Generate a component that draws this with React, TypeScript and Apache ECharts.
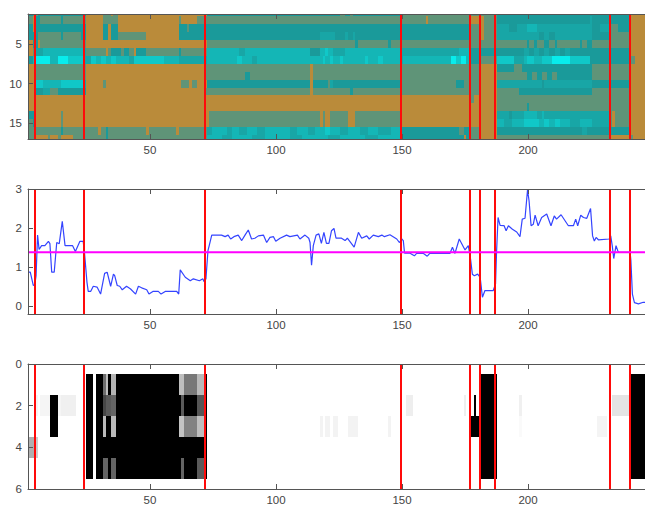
import React, { useEffect, useRef } from "react";
import * as echarts from "echarts";

const xTicks = [50, 100, 150, 200];
const heatYTicks = [5, 10, 15];
const lineYTicks = [0, 1, 2, 3];
const grayYTicks = [0, 2, 4, 6];
const xMin = 1.6;
const xMax = 246.4;

const redColumns = [4.2, 24, 72, 149.7, 176.8, 180.8, 187, 232.6, 240.6];
const threshold = 1.38;

// level colours of the top panel
const heatColors = ["#BA8B3A", "#5F9478", "#1A9A9A", "#18A6A6", "#14B6B6", "#10C8C8", "#08ECEC"];

// each row: runs of [last column, level]
const row1 = [[3,2],[5,1],[24,2],[31,0],[34,1],[35,0],[37,1],[72,0],[125,2],[127,1],[129,2],[130,1],[149,2],[187,1],[232,2],[240,2],[246,0]];
const row2 = [[3,1],[4,0],[6,2],[14,1],[15,2],[24,1],[31,0],[37,1],[61,0],[62,1],[68,0],[72,1],[159,1],[160,0],[176,1],[180,0],[181,1],[182,0],[187,1],[224,2],[225,3],[240,2],[246,0]];
const row3 = [[3,2],[4,0],[24,2],[31,0],[33,2],[34,0],[37,2],[61,0],[64,2],[65,1],[72,2],[176,2],[181,1],[182,0],[187,1],[192,3],[195,2],[199,3],[203,4],[225,3],[228,2],[232,3],[235,1],[240,2],[246,0]];
const row4 = [[5,2],[14,1],[15,2],[22,1],[24,2],[31,0],[33,2],[34,0],[37,2],[48,1],[61,0],[117,2],[123,3],[127,2],[128,3],[130,2],[131,3],[176,2],[181,1],[182,0],[187,1],[204,3],[206,2],[208,3],[210,2],[225,3],[232,2],[240,1],[246,0]];
const row5 = [[3,0],[5,2],[6,0],[24,1],[72,0],[131,1],[132,2],[144,1],[145,2],[199,1],[200,2],[202,1],[203,2],[206,1],[208,2],[210,1],[211,2],[220,1],[221,2],[223,1],[225,2],[240,1],[246,0]];
const row6 = [[3,0],[4,1],[7,3],[23,4],[24,3],[32,1],[33,0],[34,1],[38,2],[39,1],[41,2],[43,1],[44,0],[48,2],[61,1],[62,2],[72,1],[85,4],[87,3],[113,4],[117,2],[119,4],[120,5],[122,4],[127,3],[149,4],[172,3],[176,4],[198,2],[200,3],[202,2],[204,3],[206,2],[208,3],[210,2],[212,3],[214,2],[216,3],[240,2],[246,0]];
const row7 = [[3,2],[4,4],[10,6],[13,4],[17,6],[23,5],[26,3],[28,5],[30,4],[32,5],[34,4],[36,5],[41,4],[43,3],[55,5],[61,4],[72,3],[84,4],[86,5],[90,4],[92,3],[118,4],[119,5],[121,4],[122,5],[125,4],[126,5],[135,4],[136,5],[140,4],[142,5],[149,4],[150,3],[169,4],[171,6],[173,5],[175,6],[176,4],[180,2],[187,1],[194,5],[198,3],[199,4],[202,5],[205,4],[209,5],[216,6],[224,5],[240,2],[242,1],[246,0]];
const row8 = [[4,0],[24,1],[71,0],[113,1],[114,0],[180,1],[187,0],[194,2],[197,1],[225,2],[240,1],[246,0]];
const row9 = [[4,0],[24,1],[71,0],[87,1],[89,2],[113,1],[114,0],[180,1],[187,0],[199,1],[201,2],[203,1],[205,2],[207,1],[209,2],[211,1],[225,2],[240,1],[246,0]];
const row10 = [[4,0],[7,5],[14,4],[23,5],[24,3],[31,0],[32,1],[62,0],[65,1],[66,0],[68,1],[72,0],[113,2],[114,0],[120,2],[121,1],[122,3],[149,2],[171,1],[174,2],[180,1],[187,0],[205,3],[206,2],[225,3],[240,2],[246,0]];
const row11 = [[4,0],[7,2],[10,3],[13,1],[24,2],[71,0],[113,1],[114,0],[129,1],[130,2],[180,1],[187,0],[196,1],[225,2],[240,1],[246,0]];
const row12 = [[177,0],[178,1],[187,0],[240,1],[246,0]];
const row13 = [[187,0],[199,1],[200,2],[240,1],[246,0]];
const row14 = [[4,2],[14,0],[15,1],[73,0],[117,1],[118,0],[119,1],[121,0],[128,1],[131,0],[149,1],[187,0],[192,3],[193,2],[198,3],[203,4],[205,3],[206,4],[232,3],[233,1],[234,0],[240,1],[246,0]];
const row15 = [[3,1],[4,2],[14,0],[15,1],[73,0],[117,1],[118,0],[119,1],[121,0],[128,1],[131,0],[149,1],[187,0],[190,4],[193,3],[198,4],[204,5],[206,4],[208,5],[210,4],[212,5],[216,4],[220,3],[225,4],[232,3],[233,1],[234,0],[240,1],[246,0]];
const row16 = [[14,1],[15,2],[29,1],[30,0],[32,1],[33,2],[48,1],[49,0],[60,1],[61,0],[72,1],[74,3],[80,4],[82,3],[85,4],[88,3],[92,4],[95,3],[105,4],[108,3],[112,4],[115,3],[119,4],[121,5],[125,4],[128,3],[133,4],[136,3],[140,4],[145,3],[149,4],[172,2],[174,1],[176,2],[181,1],[187,0],[221,2],[223,3],[240,2],[246,0]];
const row17 = [[4,1],[9,0],[10,1],[13,0],[14,1],[19,0],[32,1],[33,2],[72,1],[78,4],[82,3],[90,4],[95,3],[105,4],[110,3],[120,4],[125,3],[135,4],[140,3],[149,4],[174,2],[175,0],[176,2],[181,1],[187,0],[232,1],[240,0],[241,1],[246,0]];
const heatRows = [row1,row2,row3,row4,row5,row6,row7,row8,row9,row10,row11,row12,row13,row14,row15,row16,row17];

const lineColumns = [1.7,2.5,3.7,4.3,4.8,5.4,6,7,8.3,9.7,10.3,11,12,13,14,15.2,16.3,19.3,20.4,22.2,23.5,24,25,25.5,26.5,27.5,29,30.4,32,33,34.4,35.5,36,37,38,39,40.7,42.3,44.3,45.4,46.7,48.7,49.6,51.3,53.3,54.4,56.2,60.6,61.4,62,64,66,67.2,69.6,71,71.4,72.2,73,73.5,74.5,
78.4,79.8,81,82,83.3,85,86.4,87.7,89,90.3,91.6,93,95,96.3,97.6,99,99.9,101.6,104.2,105.5,108.5,109.5,111.5,113,113.5,114.1,114.8,115.9,117,118,119,120,121,122,123,123.8,126,127.4,128.3,131,132.7,134,136,137,138.6,140.6,142,143,145.2,147.9,149,149.9,150.5,151,153,154.9,155.8,158.5,160,161,169,170,171,172.7,175,176.3,177.2,177.9,178.7,180,181,181.9,182.9,186.2,187.1,187.5,188.1,188.9,190.5,191.3,192.2,193.8,195.5,196.8,197.7,198.8,199.8,200.4,201.2,202.1,202.8,204,205.4,207.4,209.1,210.4,211.3,213.1,216,218,218.9,219.7,220.9,222,223.3,224.8,225.6,226.3,227,227.9,232.2,232.8,233.4,234,234.9,235.6,236,240.5,240.8,241.4,242.2,243.8,245.7,246.4];
const lineValues = [.87,.87,.53,.55,.78,1.82,1.45,1.55,1.55,1.66,1.6,.87,.87,1.63,1.6,2.17,1.55,1.55,1.4,1.66,1.66,1.38,.61,.38,.38,.51,.49,.31,.84,.87,.51,.82,.78,.53,.51,.42,.51,.44,.31,.51,.47,.42,.31,.38,.38,.31,.38,.38,.31,.93,.74,.65,.7,.65,.7,.63,.7,1.42,1.55,1.82,
1.82,1.78,1.82,1.72,1.78,1.82,1.68,1.82,1.95,1.72,1.74,1.8,1.82,1.63,1.76,1.78,1.66,1.74,1.82,1.78,1.82,1.72,1.82,1.74,1.63,1.05,1.55,1.82,1.85,1.61,1.89,1.61,1.61,1.93,1.99,1.74,1.74,1.68,1.74,1.51,1.89,1.74,1.8,1.72,1.82,1.78,1.82,1.78,1.83,1.72,1.63,1.72,1.68,1.36,1.36,1.29,1.35,1.35,1.28,1.35,1.35,1.51,1.35,1.72,1.44,1.55,1.2,.82,.78,.82,.74,.23,.4,.4,.57,1.38,2.27,2.07,2.06,1.93,2.06,1.97,1.9,1.78,2.23,2.25,2.98,2.7,2.06,2.1,2.33,2.06,2.27,2.36,2.06,2.31,2.23,2.34,2.06,2.06,2.23,2.06,2.33,2.27,2.25,2.5,1.8,1.67,1.76,1.7,1.72,1.8,1.55,1.22,1.55,1.42,1.38,1.38,1.17,.31,.09,.06,.1,.1];

// bottom panel: runs of [first column, last column, gray] for each of rows 1..5
const gray1 = [[25,27,0],[29,31,0],[32,32,110],[33,33,190],[34,34,0],[35,36,180],[37,61,0],[62,63,190],[64,68,120],[69,71,185],[72,72,0],[182,187,0],[241,246,0]];
const gray2 = [[5,5,245],[7,10,245],[11,13,0],[14,14,245],[15,20,240],[25,27,0],[29,31,0],[32,32,70],[33,34,90],[35,36,100],[37,62,0],[63,63,90],[64,68,0],[69,71,85],[72,72,0],[152,152,238],[153,154,238],[175,175,238],[179,179,0],[182,187,0],[197,197,240],[234,240,228],[241,246,0]];
const gray3 = [[11,13,0],[25,27,0],[29,31,0],[32,32,185],[33,34,0],[35,36,185],[37,61,0],[62,63,195],[64,68,130],[69,71,190],[72,72,0],[118,118,243],[120,121,243],[123,124,243],[129,132,243],[145,145,243],[178,181,0],[182,187,0],[197,197,250],[228,231,244],[241,246,0]];
const gray4 = [[2,4,175],[5,5,205],[25,27,0],[29,72,0],[182,187,0],[241,246,0]];
const gray5 = [[25,27,0],[29,31,0],[32,33,100],[34,34,0],[35,36,100],[37,62,0],[63,63,100],[64,68,0],[69,71,90],[72,72,0],[182,187,0],[241,246,0]];
const grayRows = [gray1, gray2, gray3, gray4, gray5];

const axisColor = "#555";
const labelStyle = { color: "#444", fontSize: 11.5, fontFamily: "Liberation Sans", margin: 6 };

function xAxes(gridIndex: number) {
  const base = {
    type: "value", gridIndex, min: xMin, max: xMax, splitLine: { show: false }, z: 10,
    axisLine: { show: true, onZero: false, lineStyle: { color: axisColor, width: 1 } },
    axisTick: { show: true, inside: true, length: 5, customValues: xTicks, lineStyle: { color: axisColor } },
  };
  return [
    { ...base, position: "bottom", axisLabel: { ...labelStyle, margin: 5, customValues: xTicks } },
    { ...base, position: "top", axisLabel: { show: false } },
  ];
}

function yAxis(gridIndex: number, min: number, max: number, ticks: number[], inverse: boolean) {
  return {
    type: "value", gridIndex, min, max, inverse, position: "left", splitLine: { show: false }, z: 10,
    axisLine: { show: true, onZero: false, lineStyle: { color: axisColor, width: 1 } },
    axisTick: { show: true, inside: true, length: 5, customValues: ticks, lineStyle: { color: axisColor } },
    axisLabel: { ...labelStyle, customValues: ticks },
  };
}

function cellSeries(xAxisIndex: number, yAxisIndex: number, data: number[][], color: (v: number) => string) {
  return {
    type: "custom", xAxisIndex, yAxisIndex, data, clip: true, silent: true, z: 2,
    encode: { x: [0, 1], y: 2 },
    renderItem: (_p: any, api: any) => {
      const a = api.coord([api.value(0) - 0.5, api.value(2) - 0.5]);
      const b = api.coord([api.value(1) + 0.5, api.value(2) + 0.5]);
      const x0 = Math.round(a[0]), x1 = Math.round(b[0]), y0 = Math.round(a[1]), y1 = Math.round(b[1]);
      return { type: "rect", shape: { x: x0, y: y0, width: x1 - x0, height: y1 - y0 }, style: { fill: color(api.value(3)) } };
    },
  };
}

function redSeries(xAxisIndex: number, yAxisIndex: number, yValue: number) {
  return {
    type: "custom", xAxisIndex, yAxisIndex, data: redColumns.map((c) => [c, yValue]), silent: true, z: 4,
    encode: { x: 0, y: 1 },
    renderItem: (p: any, api: any) => {
      const x = Math.round(api.coord([api.value(0), yValue])[0]);
      const cs = p.coordSys;
      return { type: "line", shape: { x1: x, y1: cs.y, x2: x, y2: cs.y + cs.height }, style: { stroke: "#FF0A0A", lineWidth: 2 } };
    },
  };
}

const heatData: number[][] = [];
heatRows.forEach((runs, i) => {
  let start = 1;
  runs.forEach(([end, level]) => {
    heatData.push([start, end, i + 1, level]);
    start = end + 1;
  });
});
const grayData: number[][] = [];
grayRows.forEach((runs, i) => runs.forEach(([s, e, g]) => grayData.push([s, e, i + 1, g])));
const linePoints = lineColumns.map((c, i) => [c, lineValues[i]]);

export default function App() {
  const ref = useRef<HTMLDivElement>(null);
  useEffect(() => {
    const chart = echarts.init(ref.current!, undefined, { renderer: "svg" });
    chart.setOption({
      animation: false,
      backgroundColor: "#fff",
      grid: [
        { left: 28, top: 14, width: 618, height: 125 },
        { left: 28, top: 189, width: 618, height: 125 },
        { left: 28, top: 364, width: 618, height: 125 },
      ],
      xAxis: [...xAxes(0), ...xAxes(1), ...xAxes(2)],
      yAxis: [
        yAxis(0, 1.2, 17, heatYTicks, true),
        yAxis(1, -0.2, 3, lineYTicks, false),
        yAxis(2, 0, 6, grayYTicks, true),
      ],
      series: [
        cellSeries(0, 0, heatData, (v) => heatColors[v]),
        redSeries(0, 0, 5),
        {
          type: "line", xAxisIndex: 2, yAxisIndex: 1, data: linePoints, symbol: "none", silent: true, z: 2,
          lineStyle: { color: "#3444FF", width: 1.2 },
        },
        redSeries(2, 1, 1),
        {
          type: "line", xAxisIndex: 2, yAxisIndex: 1, data: [[xMin, threshold], [xMax, threshold]], symbol: "none", silent: true, z: 5,
          lineStyle: { color: "#FF00FF", width: 2 },
        },
        cellSeries(4, 2, grayData, (v) => `rgb(${v},${v},${v})`),
        redSeries(4, 2, 3),
      ],
    });
    return () => chart.dispose();
  }, []);
  return <div ref={ref} style={{ position: "fixed", left: 0, top: 0, width: 645, height: 512 }} />;
}
